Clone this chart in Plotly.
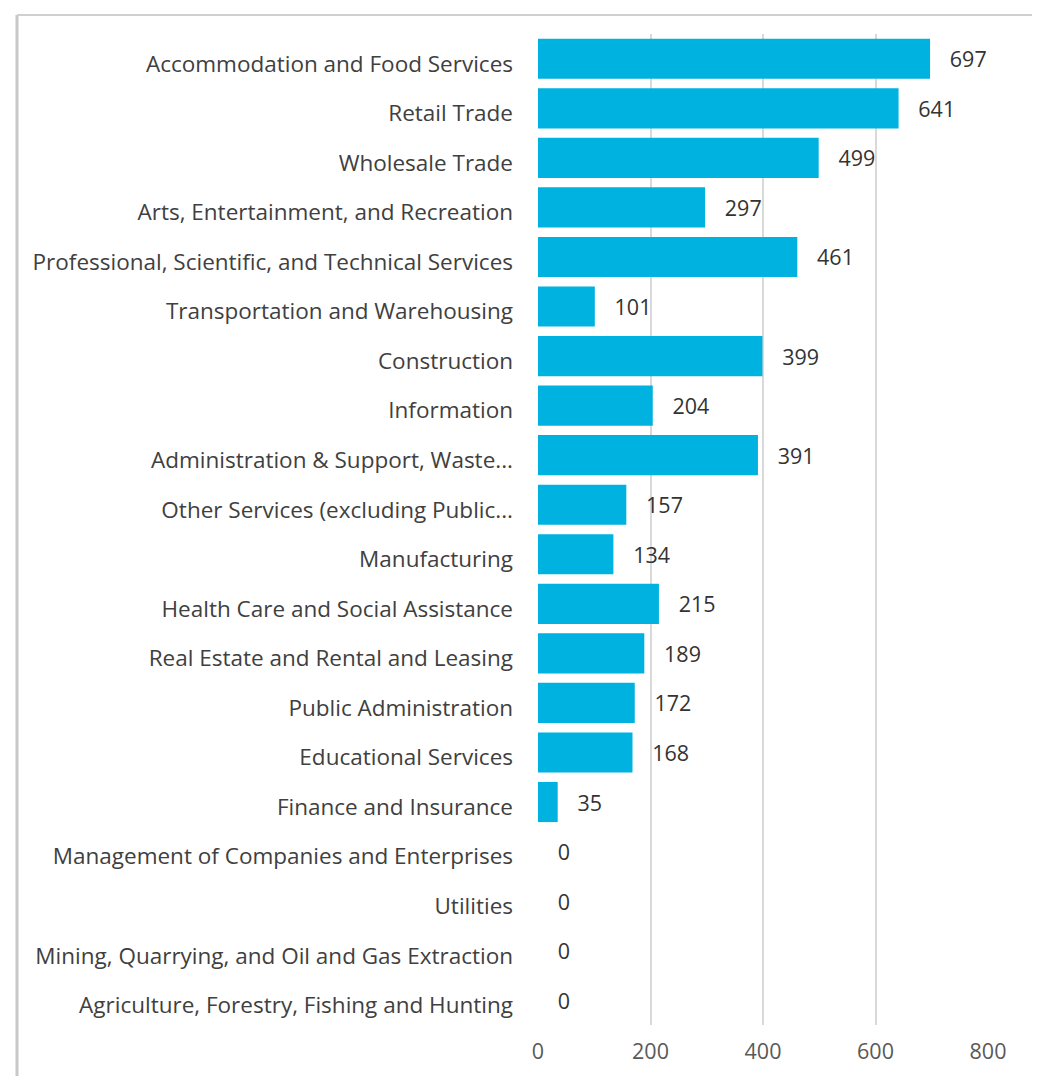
import plotly.graph_objects as go

industries = [
    "Accommodation and Food Services",
    "Retail Trade",
    "Wholesale Trade",
    "Arts, Entertainment, and Recreation",
    "Professional, Scientific, and Technical Services",
    "Transportation and Warehousing",
    "Construction",
    "Information",
    "Administration & Support, Waste...",
    "Other Services (excluding Public...",
    "Manufacturing",
    "Health Care and Social Assistance",
    "Real Estate and Rental and Leasing",
    "Public Administration",
    "Educational Services",
    "Finance and Insurance",
    "Management of Companies and Enterprises",
    "Utilities",
    "Mining, Quarrying, and Oil and Gas Extraction",
    "Agriculture, Forestry, Fishing and Hunting",
]
counts = [697, 641, 499, 297, 461, 101, 399, 204, 391, 157,
          134, 215, 189, 172, 168, 35, 0, 0, 0, 0]
x_ticks = [0, 200, 400, 600, 800]

FONT = "Open Sans, Noto Sans, sans-serif"
TEXT = "#404040"

# page body adds 8px margin, so the figure is a bit smaller than the window
W, H = 1024, 1068
L, T, PW, PH = 530, 26, 450, 991
border_x = (9 - L) / PW
border_y = 1 + 19 / PH

fig = go.Figure(
    go.Bar(
        x=counts,
        y=industries,
        orientation="h",
        marker=dict(color="#00b2e0", line_width=0),
        text=counts,
        texttemplate="   %{text}",
        textposition="outside",
        textfont=dict(family=FONT, size=21.5, color="#333333"),
        cliponaxis=False,
    )
)

fig.update_layout(
    width=W,
    height=H,
    margin=dict(l=L, r=W - L - PW, t=T, b=H - T - PH),
    paper_bgcolor="white",
    plot_bgcolor="white",
    bargap=0.19,
    showlegend=False,
    font=dict(family=FONT, size=20, color=TEXT),
    shapes=[
        dict(type="line", xref="paper", yref="paper",
             x0=border_x, x1=border_x, y0=border_y, y1=-0.08,
             line=dict(color="#c8c8c8", width=3)),
        dict(type="line", xref="paper", yref="paper",
             x0=border_x, x1=1.2, y0=border_y, y1=border_y,
             line=dict(color="#d0d0d0", width=2)),
    ],
)
fig.update_xaxes(
    range=[0, 800],
    tickvals=x_ticks,
    showgrid=True,
    gridcolor="#d9d9d9",
    gridwidth=2,
    zeroline=False,
    showline=False,
    ticks="",
    tickfont=dict(size=21.5, color="#595959"),
    ticklabelstandoff=11,
    automargin=False,
)
fig.update_yaxes(
    autorange="reversed",
    showgrid=False,
    ticks="",
    ticklabelstandoff=24,
    ticklabelshift=-5,
    tickfont=dict(size=22.5, color=TEXT),
    automargin=False,
)

fig.write_html("out.html")
